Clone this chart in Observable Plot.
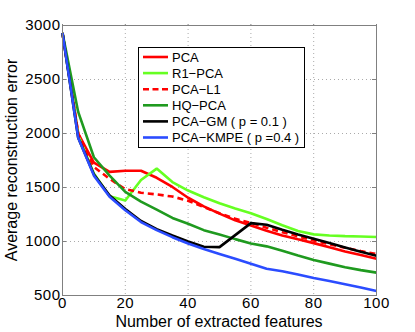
<!DOCTYPE html>
<html>
<head>
<meta charset="utf-8">
<script src="https://cdn.jsdelivr.net/npm/d3@7"></script>
<script src="https://cdn.jsdelivr.net/npm/@observablehq/plot@0.6"></script>
<style>
  html, body { margin: 0; padding: 0; background: #fff; }
  #chart { width: 415px; height: 332px; }
</style>
</head>
<body>
<div id="chart"></div>
<script>
const features = [0, 5, 10, 15, 20, 25, 30, 35, 40, 45, 50, 55, 60, 65, 70, 75, 80, 85, 90, 95, 100];
const seriesNames = ["PCA", "R1\u2212PCA", "PCA\u2212L1", "HQ\u2212PCA", "PCA\u2212GM ( p = 0.1 )", "PCA\u2212KMPE ( p =0.4 )"];
const seriesColors = ["#ff0000", "#66ff22", "#ff0000", "#1f9a1f", "#000000", "#2b4cff"];
const pca   = [2930, 2000, 1730, 1645, 1655, 1655, 1590, 1505, 1405, 1325, 1258, 1196, 1148, 1100, 1056, 1020, 985, 946, 908, 874, 840];
const r1pca = [2930, 1985, 1630, 1420, 1380, 1570, 1675, 1550, 1472, 1410, 1355, 1305, 1262, 1208, 1150, 1098, 1066, 1056, 1050, 1046, 1042];
const pcaL1 = [2930, 2000, 1690, 1580, 1485, 1452, 1436, 1416, 1378, 1318, 1262, 1210, 1172, 1128, 1086, 1048, 1009, 975, 942, 912, 884];
const hqpca = [2930, 2200, 1780, 1610, 1460, 1370, 1295, 1218, 1165, 1105, 1065, 1022, 982, 955, 915, 870, 828, 795, 762, 735, 712];
const pcaGM = [2930, 1960, 1620, 1425, 1300, 1190, 1115, 1055, 1000, 952, 948, 1059, 1170, 1155, 1108, 1065, 1025, 985, 945, 905, 868];
const kmpe  = [2930, 1960, 1610, 1415, 1290, 1180, 1105, 1040, 982, 930, 885, 840, 795, 748, 725, 695, 662, 635, 605, 575, 542];
const xTicks = [0, 20, 40, 60, 80, 100];
const yTicks = [500, 1000, 1500, 2000, 2500, 3000];
const xTitle = "Number of extracted features";
const yTitle = "Average reconstruction error";

const allSeries = [pca, r1pca, pcaL1, hqpca, pcaGM, kmpe];
const rows = [];
allSeries.forEach((vals, i) => vals.forEach((v, j) => rows.push({series: seriesNames[i], x: features[j], y: v})));

const W = 415, H = 332, ML = 62, MR = 39, MT = 25, MB = 37;
const font = "'Liberation Sans', Arial, Helvetica, sans-serif";

const lineMarks = seriesNames.map((name, i) =>
  Plot.line(rows.filter(r => r.series === name), {
    x: "x", y: "y", stroke: seriesColors[i], strokeWidth: 2.6,
    strokeDasharray: i === 2 ? "6,4" : null, strokeLinejoin: "miter", strokeLinecap: "butt"
  })
);

const chart = Plot.plot({
  width: W, height: H,
  marginLeft: ML, marginRight: MR, marginTop: MT, marginBottom: MB,
  style: {fontFamily: font, fontSize: "15px", color: "#000", background: "#fff"},
  x: {domain: [0, 100]},
  y: {domain: [500, 3000]},
  marks: [
    Plot.gridX(xTicks, {stroke: "#aaa", strokeOpacity: 1, strokeDasharray: "1,3"}),
    Plot.gridY(yTicks, {stroke: "#aaa", strokeOpacity: 1, strokeDasharray: "1,3"}),
    ...lineMarks,
    Plot.frame({stroke: "#808080", strokeWidth: 1}),
    Plot.axisX(xTicks, {tickSize: 0, tickPadding: 2, label: null, tickFormat: d3.format("d"), fill: "#000", fontSize: 15}),
    Plot.axisY(yTicks, {tickSize: 0, tickPadding: 2, label: null, tickFormat: d3.format("d"), fill: "#000", fontSize: 15}),
    Plot.tickX(xTicks, {x: d => d, stroke: "#808080", insetTop: 271, insetBottom: 0}),
    Plot.tickX(xTicks, {x: d => d, stroke: "#808080", insetTop: 0, insetBottom: 271}),
    Plot.tickY(yTicks, {y: d => d, stroke: "#808080", insetLeft: 0, insetRight: 310}),
    Plot.tickY(yTicks, {y: d => d, stroke: "#808080", insetLeft: 310, insetRight: 0})
  ]
});

document.getElementById("chart").appendChild(chart);

const svg = d3.select(chart);
svg.selectAll("g[aria-label='x-axis tick label'], g[aria-label='y-axis tick label']")
  .attr("letter-spacing", "0.5px");
svg.append("text")
  .attr("x", (ML + (W - MR)) / 2).attr("y", 327)
  .attr("text-anchor", "middle")
  .attr("font-family", font).attr("font-size", 16).attr("fill", "#000")
  .text(xTitle);
svg.append("text")
  .attr("transform", `translate(17,${(MT + (H - MB)) / 2}) rotate(-90)`)
  .attr("text-anchor", "middle")
  .attr("font-family", font).attr("font-size", 16).attr("fill", "#000")
  .text(yTitle);

// legend
const lg = svg.append("g").attr("text-anchor", "start");
lg.append("rect").attr("x", 138.5).attr("y", 47.5).attr("width", 166).attr("height", 100)
  .attr("fill", "#fff").attr("stroke", "#000").attr("stroke-width", 1);
seriesNames.forEach((name, i) => {
  const cy = 57 + i * 16.1;
  lg.append("line").attr("x1", 143).attr("x2", 168).attr("y1", cy).attr("y2", cy)
    .attr("stroke", seriesColors[i]).attr("stroke-width", 2.6)
    .attr("stroke-dasharray", i === 2 ? "6,3.5" : null);
  lg.append("text").attr("x", 172).attr("y", cy).attr("dy", "0.36em")
    .attr("text-anchor", "start")
    .attr("font-family", font).attr("font-size", 13).attr("fill", "#000")
    .text(name);
});
</script>
</body>
</html>
